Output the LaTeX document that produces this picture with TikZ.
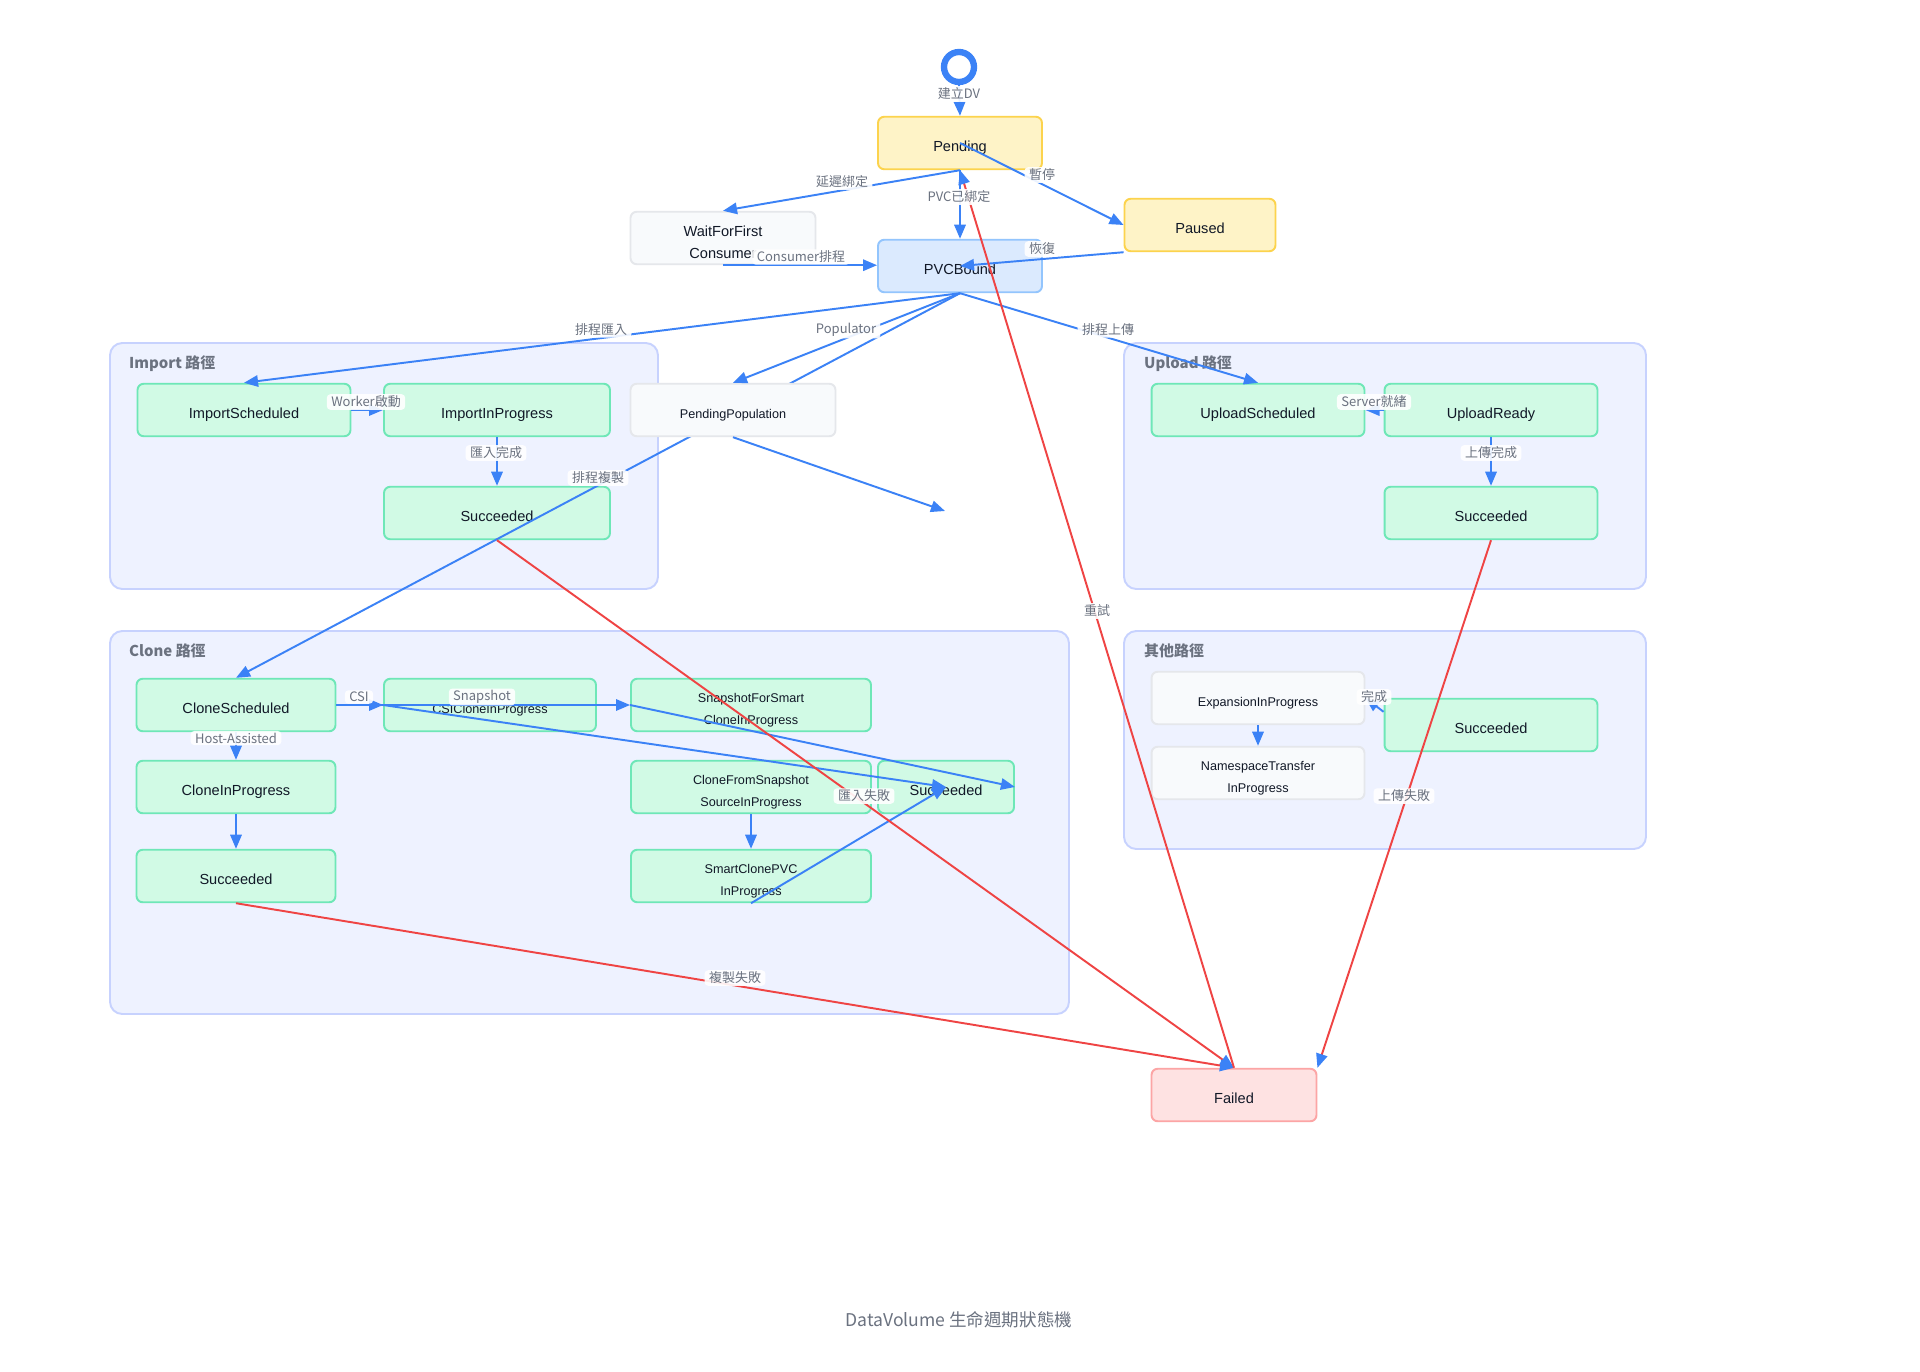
\documentclass[tikz,border=0pt]{standalone}
\usepackage{fontspec}
\setmainfont{Liberation Sans}
\newfontfamily\cjk{Noto Sans CJK TC}
\usetikzlibrary{arrows.meta}
\definecolor{edgeblue}{HTML}{3B82F6}
\definecolor{failred}{HTML}{EF4444}
\definecolor{labgray}{HTML}{6B7280}
\definecolor{inkdark}{HTML}{111827}
\definecolor{ambfill}{HTML}{FEF3C7}
\definecolor{ambline}{HTML}{FCD34D}
\definecolor{bndfill}{HTML}{DBEAFE}
\definecolor{bndline}{HTML}{93C5FD}
\definecolor{greyfill}{HTML}{F8FAFC}
\definecolor{greyline}{HTML}{E5E7EB}
\definecolor{okfill}{HTML}{D1FAE5}
\definecolor{okline}{HTML}{6EE7B7}
\definecolor{badfill}{HTML}{FEE2E2}
\definecolor{badline}{HTML}{FCA5A5}
\definecolor{grpfill}{HTML}{EEF2FF}
\definecolor{grpline}{HTML}{C7D2FE}
\newcommand\tallln{\rule{0pt}{11pt}}
\begin{document}
\begin{tikzpicture}[x=0.02cm,y=-0.02cm,
  st/.style={rectangle,rounded corners=3.5pt,line width=1.1pt,inner sep=0pt,minimum height=1.05cm,align=center,text=inkdark,
    text height=10pt,text depth=0pt,font=\fontsize{8.3}{12.5}\selectfont},
  amb/.style={st,fill=ambfill,draw=ambline}, bnd/.style={st,fill=bndfill,draw=bndline},
  grey/.style={st,fill=greyfill,draw=greyline}, ok/.style={st,fill=okfill,draw=okline},
  bad/.style={st,fill=badfill,draw=badline}, small/.style={font=\fontsize{7.2}{12.5}\selectfont},
  two/.style={text height={},text depth={}},
  grp/.style={draw=grpline,fill=grpfill,line width=1.1pt,rounded corners=7pt},
  ttl/.style={anchor=west,text=labgray,font=\fontsize{8.5}{10}\selectfont\cjk\bfseries},
  lab/.style={fill=white,fill opacity=0.9,text opacity=1,text=labgray,rounded corners=2pt,inner xsep=2.5pt,inner ysep=1pt,font=\fontsize{7.4}{9}\selectfont\cjk},
  go/.style={draw=edgeblue,line width=1.1pt,-{Triangle[length=8pt,width=6.5pt]}},
  fl/.style={draw=failred,line width=1.1pt,-{Triangle[length=8pt,width=6.5pt,color=edgeblue,fill=edgeblue]}}]
\fill[white] (0,0) rectangle (1920,1372); \useasboundingbox (0,0) rectangle (1920,1372);
\draw[grp] (110,343) rectangle (658,589); \draw[grp] (1124,343) rectangle (1646,589);
\draw[grp] (110,631) rectangle (1069,1014); \draw[grp] (1124,631) rectangle (1646,849);
\node[ttl] (timp) at (123,364) {Import 路徑}; \node[ttl] (tupl) at (1138,364) {Upload 路徑};
\node[ttl] (tcln) at (123,651) {Clone 路徑}; \node[ttl] (toth) at (1138,651) {其他路徑};
\node[circle,draw=edgeblue,line width=3.6pt,minimum size=0.6cm,inner sep=0pt] (start) at (959,67) {};
\node[amb,minimum width=3.28cm] (pend) at (960,143) {Pending};
\node[amb,minimum width=3.02cm] (paus) at (1200,225) {Paused};
\node[grey,two,minimum width=3.7cm] (wfc) at (723,238) {\tallln WaitForFirst\\Consumer};
\node[bnd,minimum width=3.28cm] (bound) at (960,266) {PVCBound};
\node[ok,minimum width=4.26cm] (isch) at (244,410) {ImportScheduled};
\node[ok,minimum width=4.52cm] (iprog) at (497,410) {ImportInProgress};
\node[ok,minimum width=4.52cm] (isucc) at (497,513) {Succeeded};
\node[ok,minimum width=4.26cm] (usch) at (1258,410) {UploadScheduled};
\node[ok,minimum width=4.26cm] (uready) at (1491,410) {UploadReady};
\node[ok,minimum width=4.26cm] (usucc) at (1491,513) {Succeeded};
\node[ok,minimum width=3.98cm] (csch) at (236,705) {CloneScheduled};
\node[ok,small,minimum width=4.24cm] (csi) at (490,705) {CSICloneInProgress};
\node[ok,small,two,minimum width=4.8cm] (snap) at (751,705) {\tallln SnapshotForSmart\\CloneInProgress};
\node[ok,minimum width=3.98cm] (cprog) at (236,787) {CloneInProgress};
\node[ok,small,two,minimum width=4.8cm] (cfs) at (751,787) {\tallln CloneFromSnapshot\\SourceInProgress};
\node[ok,minimum width=2.72cm] (csucc) at (946,787) {Succeeded};
\node[ok,minimum width=3.98cm] (cok) at (236,876) {Succeeded};
\node[ok,small,two,minimum width=4.8cm] (smart) at (751,876) {\tallln SmartClonePVC\\InProgress};
\node[grey,small,minimum width=4.26cm] (expn) at (1258,698) {ExpansionInProgress};
\node[grey,small,two,minimum width=4.26cm] (nst) at (1258,773) {\tallln NamespaceTransfer\\InProgress};
\node[ok,minimum width=4.26cm] (osucc) at (1491,725) {Succeeded};
\node[bad,minimum width=3.3cm] (fail) at (1234,1095) {Failed};
\draw[go] (bound.south) -- (csch.north);
\node[grey,small,minimum width=4.1cm] (ppop) at (733,410) {PendingPopulation};
\coordinate (ppend) at (945,511);
\foreach \a/\b in {start.south/pend.north, pend.south/wfc.north, pend.south/bound.north, pend.center/paus.west,
  paus.south west/bound.center, wfc.south/wfc.south -| bound.west, bound.south/isch.north, bound.south/ppop.north,
  bound.south/usch.north, ppop.south/ppend, isch.east/iprog.west, iprog.south/isucc.north, uready.west/usch.east,
  uready.south/usucc.north, csch.east/csi.west, csch.east/snap.west, csch.south/cprog.north, cprog.south/cok.north,
  csi.west/csucc.center, snap.west/csucc.east, cfs.south/smart.north, smart.south/csucc.center,
  expn.south/nst.north, osucc.173/expn.east}
  \draw[go] (\a) -- (\b);
\foreach \a/\b in {isucc.south/fail.north, cok.south/fail.north, usucc.south/fail.north east, fail.north/pend.south}
  \draw[fl] (\a) -- (\b);
\node[lab] (lcreate) at (959,94) {建立DV}; \node[lab] (ldelay) at (842,182) {延遲綁定};
\node[lab] (lbound) at (959,197) {PVC已綁定}; \node[lab] (lpause) at (1042,175) {暫停};
\node[lab] (lresume) at (1042,249) {恢復}; \node[lab] (lcons) at (801,257) {Consumer排程};
\node[lab] (limport) at (601,330) {排程匯入}; \node[lab] (lpop) at (846,330) {Populator};
\node[lab] (lupload) at (1108,330) {排程上傳}; \node[lab] (lclone) at (598,478) {排程複製};
\node[lab] (lworker) at (366,402) {Worker啟動}; \node[lab] (limpdone) at (496,453) {匯入完成};
\node[lab] (lserver) at (1374,402) {Server就緒}; \node[lab] (lupdone) at (1491,453) {上傳完成};
\node[lab] (lcsi) at (359,697) {CSI}; \node[lab] (lsnap) at (482,697) {Snapshot};
\node[lab] (lhost) at (236,738) {Host-Assisted}; \node[lab] (limpfail) at (864,796) {匯入失敗};
\node[lab] (lclfail) at (735,978) {複製失敗}; \node[lab] (lupfail) at (1404,796) {上傳失敗};
\node[lab] (ldone) at (1374,697) {完成}; \node[lab] (lretry) at (1097,611) {重試};
\node[text=labgray,font=\fontsize{10}{12}\selectfont\cjk] (cap) at (959,1320) {DataVolume 生命週期狀態機};
\end{tikzpicture}
\end{document}
